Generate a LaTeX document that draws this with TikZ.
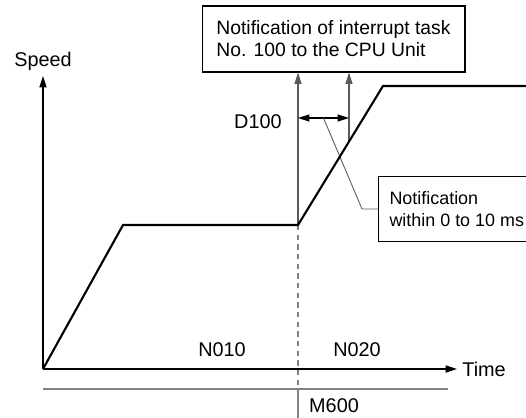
\documentclass[tikz,border=0pt]{standalone}
\usepackage{fontspec}
\setmainfont{Liberation Sans}
\usepackage{tikz}
\usetikzlibrary{positioning,arrows.meta,calc}
\definecolor{linegray}{RGB}{90,90,90}
\definecolor{guidegray}{RGB}{130,130,130}
\tikzset{
  axis-arrow/.style={-{Triangle[length=6.5pt, width=4pt]}, line width=0.9pt, draw=black},
  speed-curve/.style={line width=1.2pt, draw=black, line join=miter},
  thin-arrow/.style={-{Triangle[length=6.5pt, width=4pt]}, line width=0.6pt, draw=linegray},
  dim-arrow/.style={{Triangle[length=6.5pt, width=4pt]}-{Triangle[length=6.5pt, width=4pt]}, line width=0.6pt, draw=black},
  guide-line/.style={line width=0.6pt, draw=guidegray},
  dash-line/.style={line width=0.6pt, draw=guidegray, dash pattern=on 3pt off 2.5pt},
  note-box/.style={draw=black, line width=0.6pt, fill=white, align=left, inner xsep=0.24cm,
    font=\fontsize{11}{12.5}\selectfont},
  plain-label/.style={font=\fontsize{11.3}{12.5}\selectfont, inner sep=0pt}
}
\begin{document}
\begin{tikzpicture}[x=0.02cm, y=-0.02cm]
\clip (0,0) rectangle (526,418);

% Speed profile points
\coordinate (origin) at (43,369);
\coordinate (y-end) at (43,76);
\coordinate (x-end) at (457,369);
\coordinate (acc-end) at (123,225);
\coordinate (n020-start) at (298,225);
\coordinate (top-start) at (383,86);
\coordinate (top-end) at (540,86);
\coordinate (notify-pt) at ($(n020-start)!0.6!(top-start)$);
\coordinate (d-left) at (298,118);
\coordinate (d-right) at (349,118);
\coordinate (leader-knee) at (362,209);
\coordinate (base-left) at (43,389);
\coordinate (base-right) at (448,389);
\coordinate (m600-end) at (298,418);

% Notes
\node[note-box, minimum width=5.26cm, minimum height=1.32cm] (cpu-note) at (333.5,39)
  {Notification of interrupt task\\No. 100 to the CPU Unit};
\node[note-box, anchor=west, minimum height=1.3cm, inner xsep=0.22cm,
  font=\fontsize{10.2}{12.5}\selectfont] (ms-note) at (378,209)
  {Notification\\within 0 to 10 ms};

% Axes
\draw[axis-arrow] (origin) -- (y-end);
\draw[axis-arrow] (origin) -- (x-end);
\draw[guide-line] (base-left) -- (base-right);

% Markers at the change point
\draw[dash-line] (n020-start) -- (n020-start |- base-left);
\draw[guide-line] (n020-start |- base-left) -- (m600-end);
\draw[thin-arrow] (n020-start) -- (n020-start |- cpu-note.south);
\draw[thin-arrow] (notify-pt) -- (notify-pt |- cpu-note.south);
\draw[dim-arrow] (d-left) -- (d-right);
\draw[line width=0.5pt, draw=linegray] ($(d-left)!0.5!(d-right)$) -- (leader-knee) -- (ms-note.west);

% Speed curve
\draw[speed-curve] (origin) -- (acc-end) -- (n020-start) -- (top-start) -- (top-end);

% Labels
\node[plain-label] (speed-lbl) at (43,61) {Speed};
\node[plain-label, anchor=west] (time-lbl) at (462,369) {Time};
\node[plain-label, anchor=east] (d100-lbl) at (282,122) {D100};
\node[plain-label] (n010-lbl) at (222,350) {N010};
\node[plain-label] (n020-lbl) at (357,350) {N020};
\node[plain-label] (m600-lbl) at (334,406) {M600};
\end{tikzpicture}
\end{document}
